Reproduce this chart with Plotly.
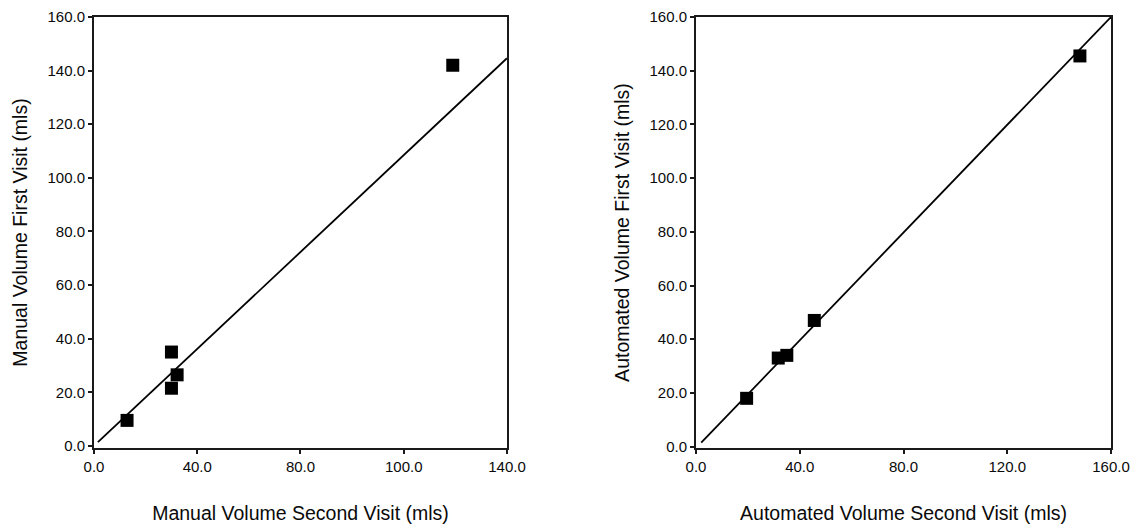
import plotly.graph_objects as go

# Left panel: manual volumes
manual_second = [12.8, 30.0, 32.2, 30.0, 139.0]
manual_first = [9.5, 35.0, 26.5, 21.5, 142.0]
manual_fit_x = [1.5, 160.0]
manual_fit_y = [1.4, 144.6]

# Right panel: automated volumes
auto_second = [19.5, 31.7, 35.0, 45.6, 148.0]
auto_first = [18.0, 33.0, 34.0, 47.0, 145.5]
auto_fit_x = [2.0, 160.0]
auto_fit_y = [1.5, 160.0]

x_tickvals = [0, 40, 80, 120, 160]
left_x_ticktext = ["0.0", "40.0", "80.0", "100.0", "140.0"]
right_x_ticktext = ["0.0", "40.0", "80.0", "120.0", "160.0"]
y_tickvals = [0, 20, 40, 60, 80, 100, 120, 140, 160]
y_ticktext = ["0.0", "20.0", "40.0", "60.0", "80.0", "100.0", "120.0", "140.0", "160.0"]

FONT = "Liberation Sans, Arial, sans-serif"
fig = go.Figure()

marker = dict(symbol="square", size=13, color="black")
fig.add_trace(go.Scatter(x=manual_fit_x, y=manual_fit_y, mode="lines",
                         line=dict(color="black", width=1.8), xaxis="x", yaxis="y", showlegend=False))
fig.add_trace(go.Scatter(x=manual_second, y=manual_first, mode="markers",
                         marker=marker, xaxis="x", yaxis="y", showlegend=False))
fig.add_trace(go.Scatter(x=auto_fit_x, y=auto_fit_y, mode="lines",
                         line=dict(color="black", width=1.8), xaxis="x2", yaxis="y2", showlegend=False))
fig.add_trace(go.Scatter(x=auto_second, y=auto_first, mode="markers",
                         marker=marker, xaxis="x2", yaxis="y2", showlegend=False))

axis_common = dict(showgrid=False, zeroline=False, showline=True, linecolor="#1a1a1a",
                   linewidth=2, mirror=True, ticks="outside", ticklen=4, tickwidth=1.5,
                   tickcolor="#1a1a1a", automargin=False,
                   tickfont=dict(family=FONT, size=15, color="#0a0a0a"))
title_font = dict(family=FONT, size=19.5, color="#0a0a0a")

fig.update_layout(
    width=1148, height=528,
    margin=dict(l=0, r=0, t=17, b=80),
    paper_bgcolor="white", plot_bgcolor="white",
    xaxis=dict(domain=[0.0819, 0.4416], range=[0, 160], tickvals=x_tickvals,
               ticktext=left_x_ticktext, anchor="y",
               title=dict(text="Manual Volume Second Visit (mls)", standoff=32,
                          font=title_font), **axis_common),
    yaxis=dict(domain=[0, 1], range=[-0.8, 160], tickvals=y_tickvals, ticktext=y_ticktext,
               anchor="x",
               title=dict(text="Manual Volume First Visit (mls)", standoff=15,
                          font=title_font), **axis_common),
    xaxis2=dict(domain=[0.6063, 0.9678], range=[0, 160], tickvals=x_tickvals,
                ticktext=right_x_ticktext, anchor="y2",
                title=dict(text="Automated Volume Second Visit (mls)", standoff=32,
                           font=title_font), **axis_common),
    yaxis2=dict(domain=[0, 1], range=[-0.5, 160], tickvals=y_tickvals, ticktext=y_ticktext,
                anchor="x2",
                title=dict(text="Automated Volume First Visit (mls)", standoff=15,
                           font=title_font), **axis_common),
)

fig.write_html("out.html")
